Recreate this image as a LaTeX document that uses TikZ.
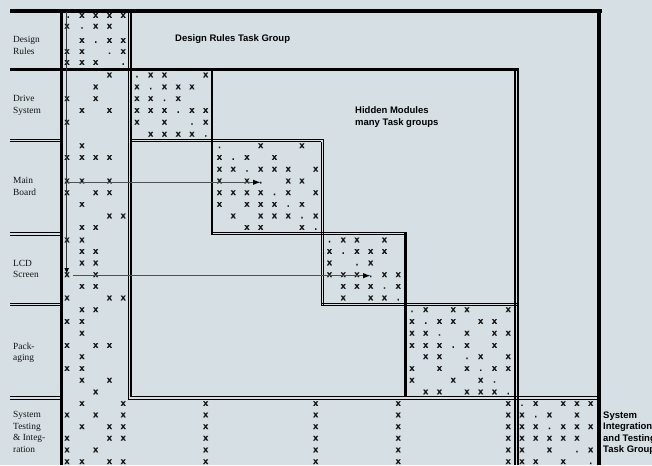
\documentclass[tikz,border=0pt]{standalone}
\usepackage{fontspec}
\setmainfont{Liberation Serif}
\newfontfamily\hsans{Liberation Sans}
\newfontfamily\xmono{Liberation Mono}[UprightFont=*-Bold, FakeBold=1.2]
\usetikzlibrary{arrows.meta}
\definecolor{bg}{RGB}{214,223,228}
\definecolor{ink}{RGB}{20,20,20}
\definecolor{arr}{RGB}{80,80,80}
\tikzset{
  lbl/.style={anchor=base west, inner sep=0pt, font=\fontsize{9.4}{11.5}\selectfont, text=ink},
  grp/.style={anchor=base west, inner sep=0pt, font=\hsans\bfseries\fontsize{9.5}{11.5}\selectfont, text=black},
  mk/.style={anchor=base, inner sep=0pt, font=\xmono\fontsize{8.8}{8.8}\selectfont, text=ink},
  thk/.style={line width=3.3pt},
  med/.style={line width=2.4pt},
  dbl/.style={line width=0.9pt},
  dblt/.style={line width=1.4pt},
  arrl/.style={draw=arr, line width=1.5pt, -{Latex[length=8pt,width=5.5pt,color=black]}},
  arrv/.style={draw=black!80, line width=1pt, -{Latex[length=6pt,width=5pt,color=black]}}
}
\begin{document}
\begin{tikzpicture}[x=1pt,y=-1pt]
\useasboundingbox[fill=bg] (0,0) rectangle (652,465);
% ---------- frame lines ----------
\draw[thk] (10,11) -- (601.5,11);
\draw[thk] (61.7,9.5) -- (61.7,465);
\draw[thk] (599,9.5) -- (599,465);
\draw[med] (10,69.5) -- (519,69.5);
% hidden-modules box
\draw[dbl]  (128.3,11) -- (128.3,399.3);
\draw[dblt] (131,11) -- (131,396.7);
\draw[dblt] (131,396.7) -- (599,396.7);
\draw[dbl]  (128.3,399.3) -- (599,399.3);
\draw[dblt] (515,69.5) -- (515,465);
\draw[dblt] (517.8,69.5) -- (517.8,465);
% label separators
\foreach \ya/\yb in {139.3/141.7, 232.7/235, 303.3/305.7, 396.7/399.3}{
  \draw[dbl] (10,\ya) -- (60,\ya);
  \draw[dbl] (10,\yb) -- (60,\yb);
}
% diagonal block borders
\draw[dbl] (131,139.3) -- (323.8,139.3);
\draw[dblt] (131,141.7) -- (321.3,141.7);
\draw[med] (211.8,69.5) -- (211.8,234.5);
\draw[dblt] (321.3,141.7) -- (321.3,305.7);
\draw[dbl] (323.8,139.3) -- (323.8,305.7);
\draw[dblt] (211.8,232.3) -- (407,232.3);
\draw[dbl] (211.8,234.5) -- (407,234.5);
\draw[med] (405.6,232.3) -- (405.6,396.7);
\draw[dblt] (321.3,303.3) -- (517.8,303.3);
\draw[dbl] (321.3,305.7) -- (517.8,305.7);
% ---------- matrix marks ----------
\foreach \y/\d/\xs [count=\r] in {
 17.8/0/{1,2,3,4},
 28.6/1/{0,2,3},
 42.8/2/{1,3,4},
 53.9/3/{0,1,4},
 64.8/4/{0,1,2},
 77.3/5/{3,6,7,10},
 89.2/6/{2,5,7,8,9},
 101.0/7/{0,2,5,6,8},
 112.8/8/{1,3,5,6,7,9,10},
 124.6/9/{0,5,7,10},
 136.6/10/{6,7,8,9},
 148.1/11/{1,14,17},
 159.8/12/{0,1,2,3,11,13,15},
 171.6/13/{11,12,14,15,16,18},
 183.3/14/{0,1,3,11,13,16,17},
 195.0/15/{0,2,3,11,12,13,14,16,18},
 206.7/16/{1,11,13,14,15,17},
 218.3/17/{3,4,12,14,15,16,18},
 229.8/18/{1,2,13,14,17},
 242.3/19/{0,1,20,21,23},
 253.8/20/{1,2,19,21,22,23},
 265.3/21/{1,2,19,22},
 277.1/22/{0,2,19,20,21,23,24},
 288.7/23/{1,2,20,21,22,24},
 300.3/24/{0,3,4,20,22,23},
 312.1/25/{1,2,26,28,29,32},
 323.8/26/{0,1,25,27,28,30,31},
 335.6/27/{1,25,26,29,31,32},
 347.8/28/{0,2,3,25,26,27,29,31},
 359.0/29/{1,26,27,30,32},
 370.9/30/{0,1,25,27,29,31,32},
 382.6/31/{1,3,25,28,30},
 394.3/32/{2,26,27,29,30,31},
 405.9/33/{1,4,10,18,24,32,34,36,37,38},
 417.3/34/{0,2,4,10,18,24,32,33,35,37},
 429.0/35/{1,3,4,10,18,24,32,33,34,36,37,38},
 440.6/-1/{0,3,4,10,18,24,32,33,34,35,36,37},
 452.3/37/{0,2,10,18,24,32,33,35,38},
 464.0/38/{0,1,3,4,10,18,24,32,33,34,36}}{
  \foreach \c in \xs {
    \pgfmathsetmacro\xx{\c==0 ? 67 : 68.2+13.75*\c}
    \node[mk] (m-\r-\c) at (\xx,\y) {x};
  }
  \ifnum\d>-1
    \node[mk] (d-\r) at ({68.2+13.75*\d},\y) {.};
  \fi
}
% ---------- arrows ----------
\coordinate (va-s) at (66.7,12);
\coordinate (va-e) at (66.7,274);
\coordinate (h1-s) at (66.7,182.3);
\coordinate (h1-e) at (261,182.3);
\coordinate (h2-s) at (73,275.7);
\coordinate (h2-e) at (371,275.7);
\draw[arrv] (va-s) -- (va-e);
\draw[arrl] (h1-s) -- (h1-e);
\draw[arrl] (h2-s) -- (h2-e);
% ---------- labels ----------
\node[lbl] (l1a) at (13,42.7) {Design};
\node[lbl] (l1b) at (13,54.2) {Rules};
\node[lbl] (l2a) at (13,101.7) {Drive};
\node[lbl] (l2b) at (13,113.2) {System};
\node[lbl] (l3a) at (13,183.5) {Main};
\node[lbl] (l3b) at (13,195.3) {Board};
\node[lbl] (l4a) at (13,266) {LCD};
\node[lbl] (l4b) at (13,277.6) {Screen};
\node[lbl] (l5a) at (13,349) {Pack-};
\node[lbl] (l5b) at (13,360.5) {aging};
\node[lbl] (l6a) at (13,417.7) {System};
\node[lbl] (l6b) at (13,429.3) {Testing};
\node[lbl] (l6c) at (13,440.8) {\& Integ-};
\node[lbl] (l6d) at (13,452.4) {ration};
% group titles
\node[grp] (g1) at (175,41.7) {Design Rules Task Group};
\node[grp] (g2a) at (355,113.5) {Hidden Modules};
\node[grp] (g2b) at (355,125.2) {many Task groups};
\node[grp] (g3a) at (603,418.3) {System};
\node[grp] (g3b) at (603,429.8) {Integration};
\node[grp] (g3c) at (603,441.3) {and Testing};
\node[grp] (g3d) at (603,452.8) {Task Group};
\end{tikzpicture}
\end{document}
